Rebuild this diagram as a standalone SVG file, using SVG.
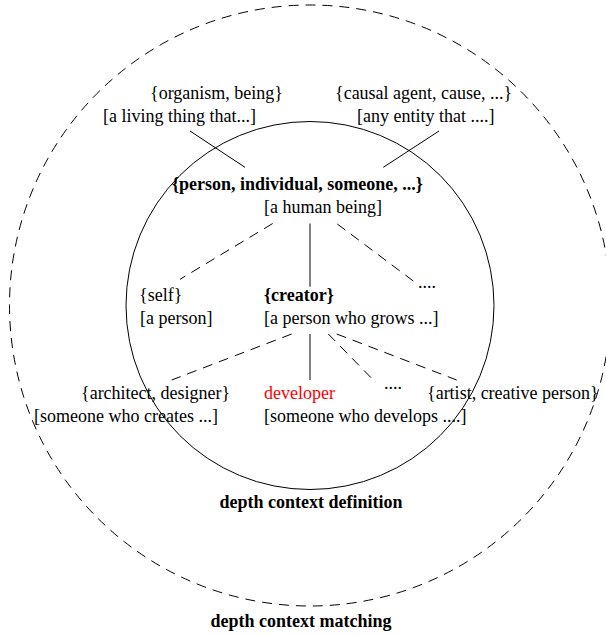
<svg xmlns="http://www.w3.org/2000/svg" width="606" height="635" viewBox="0 0 606 635">
<style>
text { font-family: "Liberation Serif", "Times New Roman", serif; font-size: 18px; fill: #000; }
.b { font-weight: bold; }
.red { fill: #ff0000; }
.ln { stroke: #000; stroke-width: 1; fill: none; }
.dash { stroke-dasharray: 10 7; }
</style>
<rect width="606" height="635" fill="#fff"/>
<g id="regions">
  <circle class="ln dash" cx="310" cy="305.5" r="300.5"/>
  <circle class="ln" cx="310" cy="305.5" r="184"/>
</g>
<g id="connectors">
  <line class="ln" x1="190" y1="131" x2="245" y2="167.3"/>
  <line class="ln" x1="439" y1="131" x2="383.3" y2="167.3"/>
  <line class="ln dash" x1="272.7" y1="223.5" x2="180" y2="279.3"/>
  <line class="ln" x1="310" y1="223.5" x2="310" y2="286.7"/>
  <line class="ln dash" x1="337.3" y1="224" x2="417.7" y2="284.3"/>
  <line class="ln dash" x1="291.7" y1="334" x2="171.7" y2="380"/>
  <line class="ln" x1="310" y1="334" x2="310" y2="380"/>
  <line class="ln dash" x1="328.3" y1="334" x2="376" y2="382.7"/>
  <line class="ln dash" x1="336.7" y1="334" x2="456.7" y2="380"/>
</g>
<g id="organism">
  <text x="150" y="99">{organism, being}</text>
  <text x="103" y="122">[a living thing that...]</text>
</g>
<g id="causal-agent">
  <text x="335" y="99">{causal agent, cause, ...}</text>
  <text x="357" y="122">[any entity that ....]</text>
</g>
<g id="person">
  <text class="b" x="172" y="190">{person, individual, someone, ...}</text>
  <text x="264" y="213">[a human being]</text>
</g>
<g id="self">
  <text x="139" y="301">{self}</text>
  <text x="140" y="324">[a person]</text>
</g>
<g id="creator">
  <text class="b" x="264" y="301">{creator}</text>
  <text x="264" y="324">[a person who grows ...]</text>
</g>
<g id="more-1">
  <text x="418" y="288">....</text>
</g>
<g id="architect">
  <text x="81" y="399">{architect, designer}</text>
  <text x="34" y="422">[someone who creates ...]</text>
</g>
<g id="developer">
  <text class="red" x="264" y="399">developer</text>
  <text x="264" y="422">[someone who develops ....]</text>
</g>
<g id="more-2">
  <text x="384" y="389">....</text>
</g>
<g id="artist">
  <text x="427" y="399">{artist, creative person}</text>
</g>
<g id="labels">
  <text class="b" x="311" y="508" text-anchor="middle">depth context definition</text>
  <text class="b" x="301" y="627" text-anchor="middle">depth context matching</text>
</g>
</svg>
